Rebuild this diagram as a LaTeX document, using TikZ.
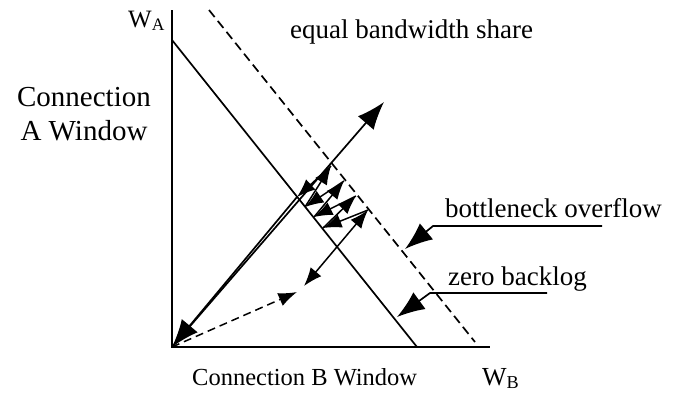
\documentclass[tikz,border=0pt]{standalone}
\usepackage{fontspec}
\setmainfont{Liberation Serif}
\usetikzlibrary{arrows.meta}
\begin{document}
\begin{tikzpicture}[x=1pt,y=-1pt,
  axis/.style={line width=2.4pt},
  ln/.style={line width=1.7pt},
  arr/.style={line width=1.7pt,-{Latex[scale=2.6]}},
  zz/.style={line width=1.5pt,-{Latex[scale=1.9]}},
  lbl/.style={font=\fontsize{27}{31}\selectfont, inner sep=0pt, anchor=base west},
]
\useasboundingbox (0,0) rectangle (678,392);
% axes and lines
\coordinate (O) at (172,347);
\coordinate (ytop) at (172,10);
\coordinate (xend) at (490,347);
\coordinate (s1) at (172,40);
\coordinate (s2) at (417,347);
\coordinate (d1) at (209,10);
\coordinate (d2) at (475,342);
\coordinate (E) at (384,102);
\draw[axis] (ytop) -- (O) -- (xend);
\draw[ln] (s1) -- (s2);
\draw[ln, dash pattern=on 9pt off 5pt] (d1) -- (d2);
\draw[arr] (O) -- (E);
% zigzag
\coordinate (P1) at (297,197);
\coordinate (P2) at (305,207);
\coordinate (P3) at (314,217);
\coordinate (P4) at (323,228);
\coordinate (Q1) at (331,166);
\coordinate (Q2) at (344,181);
\coordinate (Q3) at (356,196);
\coordinate (Q4) at (368,210);
\coordinate (S) at (304,286);
\coordinate (Sd) at (297,292);
\draw[arr] (P1) -- (O);
\draw[zz] (Q4) -- (P4);
\draw[zz] (P4) -- (Q3);
\draw[zz] (Q3) -- (P3);
\draw[zz] (P3) -- (Q2);
\draw[zz] (Q2) -- (P2);
\draw[zz] (P2) -- (Q1);
\draw[zz] (Q1) -- (P1);
\draw[zz, {Latex[scale=1.9]}-{Latex[scale=1.9]}] (S) -- (Q4);
\draw[line width=1.5pt, dash pattern=on 8pt off 5pt, -{Latex[scale=1.9]}] (O) -- (Sd);
% labels
\node[lbl] (eq) at (290,38) {equal bandwidth share};
\node[lbl, font=\fontsize{25}{29}\selectfont] (wa) at (128,27) {W\textsubscript{A}};
\node[font=\fontsize{29}{34}\selectfont, align=center, inner sep=0pt] (caw) at (84,114) {Connection\\A Window};
\node[lbl] (bo) at (445,217) {bottleneck overflow};
\node[lbl] (zb) at (448,285) {zero backlog};
\node[lbl, font=\fontsize{24.5}{29}\selectfont] (cbw) at (192,385) {Connection B Window};
\node[lbl, font=\fontsize{26}{30}\selectfont] (wb) at (482,385) {W\textsubscript{B}};
% label pointers
\coordinate (bo1) at (602,226);
\coordinate (bo2) at (433,226);
\coordinate (bot) at (405,249);
\coordinate (zb1) at (547,293);
\coordinate (zb2) at (430,293);
\coordinate (zbt) at (397,317);
\draw[arr] (bo1) -- (bo2) -- (bot);
\draw[arr] (zb1) -- (zb2) -- (zbt);
\end{tikzpicture}
\end{document}
